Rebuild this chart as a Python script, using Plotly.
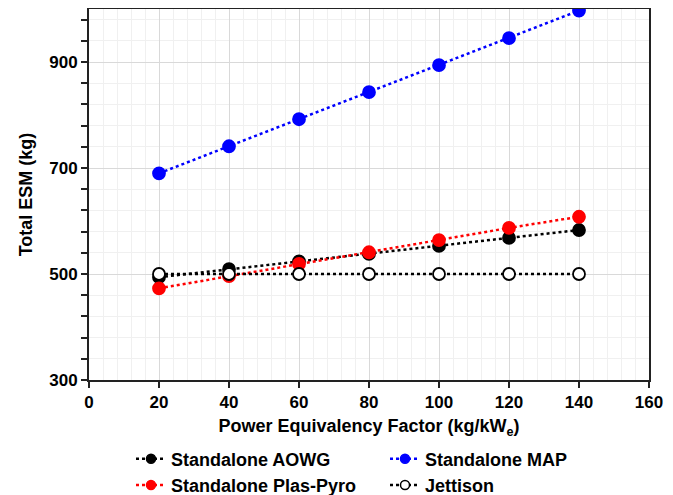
import plotly.graph_objects as go

x_vals = [20, 40, 60, 80, 100, 120, 140]
aowg = [494, 509, 524, 538, 553, 568, 583]
map_vals = [690, 741, 792, 843, 894, 945, 997]
plas_pyro = [473, 496, 519, 541, 564, 587, 608]
jettison = [500, 500, 500, 500, 500, 500, 500]

series_names = ["Standalone AOWG", "Standalone MAP", "Standalone Plas-Pyro", "Jettison"]

FONT = "Liberation Sans, Arial, sans-serif"

fig = go.Figure()

def add(name, y, color, fill):
    fig.add_trace(go.Scatter(
        x=x_vals, y=y, name=name, mode="lines+markers", showlegend=False,
        legendgroup=name,
        line=dict(color=color, width=2.5, dash="dot"),
        marker=dict(size=12, color=fill, line=dict(color=color, width=1.8)),
    ))

def add_legend(name, color, fill):
    fig.add_trace(go.Scatter(
        x=[None], y=[None], name=name, mode="lines+markers", legendgroup=name,
        line=dict(color=color, width=2.5, dash="dot"),
        marker=dict(size=9, color=fill, line=dict(color=color, width=1.5)),
    ))

styles = [("black", "black"), ("#0000ff", "#0000ff"), ("#ff0000", "#ff0000"), ("black", "white")]
series = [aowg, map_vals, plas_pyro, jettison]
for name, y, (c, f) in zip(series_names, series, styles):
    add(name, y, c, f)
for name, (c, f) in zip(series_names, styles):
    add_legend(name, c, f)

fig.update_layout(
    width=665, height=487,
    margin=dict(l=81, r=24, t=1, b=115, autoexpand=False),
    paper_bgcolor="white", plot_bgcolor="white",
    font=dict(family=FONT, size=16, color="black"),
    legend=dict(
        orientation="h", x=0.075, y=-0.163, xanchor="left", yanchor="top",
        entrywidth=209, entrywidthmode="pixels",
        font=dict(family=FONT, size=18, color="black", weight="bold"),
        tracegroupgap=0, itemwidth=30,
    ),
    showlegend=True,
)

fig.update_xaxes(
    range=[0, 160], dtick=20, tick0=0,
    showline=True, linecolor="#222", linewidth=2, mirror=True,
    ticks="outside", ticklen=6, tickwidth=2, tickcolor="#222",
    showgrid=True, gridcolor="#d9d9d9", gridwidth=1,
    minor=dict(dtick=4, showgrid=True, gridcolor="#f0f0f0", gridwidth=1, ticks=""),
    tickfont=dict(family=FONT, size=17, weight="bold"),
    title=dict(text="Power Equivalency Factor (kg/kW<sub>e</sub>)",
               font=dict(family=FONT, size=18, weight="bold"), standoff=8),
    zeroline=False,
)
fig.update_yaxes(
    range=[300, 1000], dtick=200, tick0=300,
    showline=True, linecolor="#222", linewidth=2, mirror=True,
    ticks="outside", ticklen=6, tickwidth=2, tickcolor="#222",
    showgrid=True, gridcolor="#d9d9d9", gridwidth=1,
    minor=dict(dtick=40, tick0=300, showgrid=True, gridcolor="#f0f0f0", gridwidth=1,
               ticks="outside", ticklen=6, tickwidth=2, tickcolor="#222"),
    tickfont=dict(family=FONT, size=17, weight="bold"),
    title=dict(text="Total ESM (kg)", font=dict(family=FONT, size=18, weight="bold"), standoff=12),
    zeroline=False,
)

fig.write_html("out.html")
